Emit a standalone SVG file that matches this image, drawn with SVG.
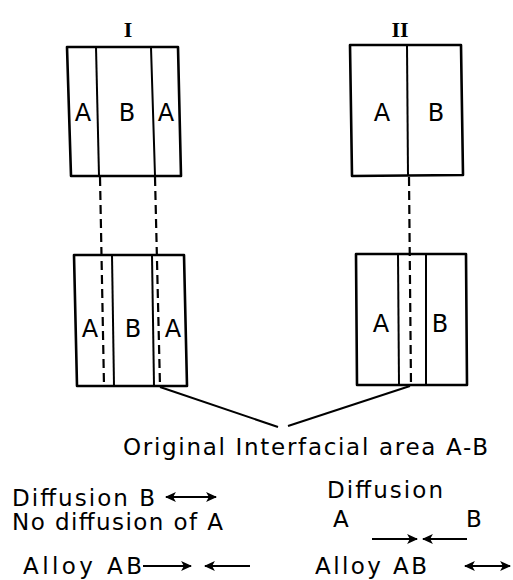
<svg xmlns="http://www.w3.org/2000/svg" width="513" height="580" viewBox="0 0 513 580">
<style>
.box{fill:#fff;stroke:#000;stroke-width:2.6;stroke-linejoin:round}
.ln{stroke:#000;stroke-width:2;fill:none}
.dash{stroke:#000;stroke-width:2.2;fill:none;stroke-dasharray:9 5}
.lbl{font-family:"DejaVu Sans","Liberation Sans",sans-serif;font-size:24px;fill:#000;text-anchor:middle}
.rom{font-family:"Liberation Serif","Times New Roman",serif;font-size:22px;font-weight:bold;fill:#000;text-anchor:middle}
.txt{font-family:"DejaVu Sans","Liberation Sans",sans-serif;font-size:23px;fill:#000}
.arr{stroke:#000;stroke-width:2;fill:none}
</style>
<defs>
<marker id="ah" viewBox="0 0 10 10" refX="9" refY="5" markerWidth="5.5" markerHeight="5.5" orient="auto-start-reverse" markerUnits="strokeWidth">
<path d="M0,0.5 L10,5 L0,9.5 L2.5,5 Z" fill="#000"/>
</marker>
</defs>
<rect width="513" height="580" fill="#fff"/>

<g id="label-I"><text class="rom" x="128" y="37">I</text></g>
<g id="label-II"><text class="rom" x="400" y="37">II</text></g>

<g id="box-I-top">
<polygon class="box" points="67,47 178,47 181,176 71,176"/>
<line class="ln" x1="96" y1="47" x2="99" y2="176"/>
<line class="ln" x1="151" y1="47" x2="155" y2="176"/>
<text class="lbl" x="83" y="121">A</text>
<text class="lbl" x="127" y="121">B</text>
<text class="lbl" x="166" y="121">A</text>
</g>

<g id="box-II-top">
<polygon class="box" points="350,45 461,45 463,175 352,176"/>
<line class="ln" x1="407" y1="45" x2="408" y2="176"/>
<text class="lbl" x="382" y="121">A</text>
<text class="lbl" x="436" y="121">B</text>
</g>

<g id="box-I-bottom">
<polygon class="box" points="74,255 184,255 187,386 77,386"/>
<line class="ln" x1="112" y1="255" x2="114" y2="386"/>
<line class="ln" x1="152" y1="255" x2="154" y2="386"/>
<text class="lbl" x="90" y="337">A</text>
<text class="lbl" x="133" y="337">B</text>
<text class="lbl" x="173" y="337">A</text>
</g>

<g id="box-II-bottom">
<polygon class="box" points="356,254 466,254 467,385 357,385"/>
<line class="ln" x1="398" y1="254" x2="399" y2="385"/>
<line class="ln" x1="426" y1="254" x2="426" y2="385"/>
<text class="lbl" x="381" y="332">A</text>
<text class="lbl" x="440" y="332">B</text>
</g>

<g id="connectors">
<line class="dash" x1="100" y1="177" x2="104" y2="386"/>
<line class="dash" x1="155" y1="177" x2="160" y2="386"/>
<line class="dash" x1="409" y1="177" x2="411" y2="385"/>
<line class="ln" x1="160" y1="387" x2="278" y2="427"/>
<line class="ln" x1="410" y1="386" x2="288" y2="426"/>
</g>

<g id="caption">
<text class="txt" x="123" y="455" font-size="26" textLength="365" lengthAdjust="spacing">Original Interfacial area A-B</text>
</g>

<g id="legend-I">
<text class="txt" x="12" y="506" textLength="143" lengthAdjust="spacing">Diffusion B</text>
<line class="arr" x1="166" y1="497" x2="216" y2="497" marker-start="url(#ah)" marker-end="url(#ah)"/>
<text class="txt" x="12" y="530" textLength="211" lengthAdjust="spacing">No diffusion of A</text>
<text class="txt" x="23" y="574" textLength="119" lengthAdjust="spacing">Alloy AB</text>
<line class="arr" x1="143" y1="566" x2="191" y2="566" marker-end="url(#ah)"/>
<line class="arr" x1="250" y1="566" x2="205" y2="566" marker-end="url(#ah)"/>
</g>

<g id="legend-II">
<text class="txt" x="327" y="498" textLength="116" lengthAdjust="spacing">Diffusion</text>
<text class="txt" x="333" y="527">A</text>
<text class="txt" x="466" y="527">B</text>
<line class="arr" x1="372" y1="539" x2="417" y2="539" marker-end="url(#ah)"/>
<line class="arr" x1="467" y1="539" x2="423" y2="539" marker-end="url(#ah)"/>
<text class="txt" x="315" y="574" textLength="112" lengthAdjust="spacing">Alloy AB</text>
<line class="arr" x1="465" y1="566" x2="510" y2="566" marker-start="url(#ah)" marker-end="url(#ah)"/>
</g>
</svg>
